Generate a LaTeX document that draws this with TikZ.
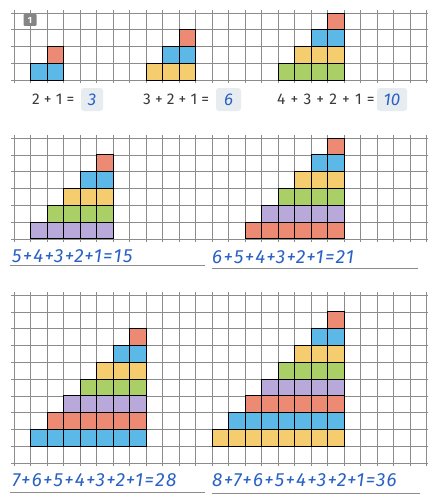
\documentclass[tikz,border=0pt]{standalone}
\usepackage{fontspec}
\setmainfont{Fira Sans}
\newfontfamily\handfont[LetterSpace=7]{Fira Sans}
\definecolor{gridc}{HTML}{8C8C8C}
\definecolor{c1}{HTML}{EC8A74}
\definecolor{c2}{HTML}{5CB8E6}
\definecolor{c3}{HTML}{F6CD6E}
\definecolor{c4}{HTML}{AACF66}
\definecolor{c5}{HTML}{B9A9DA}
\definecolor{c6}{HTML}{EC8A74}
\definecolor{c7}{HTML}{5CB8E6}
\definecolor{c8}{HTML}{F6CD6E}
\definecolor{handc}{HTML}{2A62C4}
\definecolor{printc}{HTML}{3A3A3A}
\definecolor{boxc}{HTML}{E7ECF1}
\definecolor{badgec}{HTML}{858585}
\newcommand\gridsec[3]{%
  \foreach \k in {0,...,25} {\draw[gridline] ({14+16.5*\k},{#1-3}) -- ({14+16.5*\k},{#1+#3*#2+3});}
  \foreach \j in {0,...,#3} {\draw[gridline] (11,{#1+\j*#2}) -- (428,{#1+\j*#2});}
}
\newcommand\stairs[5]{%
  \foreach \w in {1,...,#3} {%
    \pgfmathtruncatemacro\rr{#5-(#3-\w)}%
    \foreach \c in {1,...,\w} {%
      \pgfmathsetmacro\xx{14+16.5*(#4-\c+1)}%
      \pgfmathsetmacro\yy{#1+#2*\rr}%
      \draw[cellbox, fill=c\w] (\xx,\yy) rectangle ++(16.5,#2);
    }%
  }%
}
\begin{document}
\begin{tikzpicture}[x=1pt,y=-1pt,
  gridline/.style={draw=gridc, line width=0.6pt},
  cellbox/.style={draw=black, line width=0.8pt},
  printed/.style={inner sep=0pt, text=printc, font=\fontsize{15.5}{15.5}\selectfont},
  ansbox/.style={fill=boxc, rounded corners=3pt, minimum height=23pt, inner sep=0pt, text=handc, font=\fontsize{17}{17}\selectfont\itshape},
  hand/.style={inner sep=0pt, text=handc, font=\fontsize{19}{19}\handfont\itshape},
  uline/.style={draw=gridc, line width=0.7pt},
  badge/.style={fill=badgec, rounded corners=1pt, minimum width=13pt, minimum height=12pt, inner sep=0pt, text=white, font=\fontsize{9}{9}\selectfont\bfseries}]
\useasboundingbox (0,0) rectangle (428,495);
\fill[white] (0,0) rectangle (428,495);
% section 1
\gridsec{13}{16.75}{4}
\stairs{13}{16.75}{2}{2}{3}
\stairs{13}{16.75}{3}{10}{3}
\stairs{13}{16.75}{4}{19}{3}
\node[badge] (b1) at (30,20) {1};
\node[printed, anchor=base west] (e1) at (32,104) {2 + 1 =};
\node[ansbox, minimum width=22pt] (a1) at (92,99.5) {3};
\node[printed, anchor=base west] (e2) at (143,104) {3 + 2 + 1 =};
\node[ansbox, minimum width=25pt] (a2) at (228.5,99.5) {6};
\node[printed, anchor=base west] (e3) at (277,104) {4\,\,+\,\,3\,\,+\,\,2\,\,+\,\,1\,\,=};
\node[ansbox, minimum width=30pt] (a3) at (392,99.5) {10};
% section 2
\gridsec{138}{16.8}{6}
\stairs{138}{16.8}{5}{5}{5}
\stairs{138}{16.8}{6}{19}{5}
\node[hand, anchor=base west] (h1) at (12,262) {5+4+3+2+1=15};
\node[hand, anchor=base west] (h2) at (212,263) {6+5+4+3+2+1=21};
\draw[uline] (10,265.5) -- (205,265.5);
\draw[uline] (212,268) -- (418,268);
% section 3
\gridsec{295}{16.8}{10}
\stairs{295}{16.8}{7}{7}{8}
\stairs{295}{16.8}{8}{19}{8}
\node[hand, anchor=base west] (h3) at (12,486) {7+6+5+4+3+2+1=28};
\node[hand, anchor=base west] (h4) at (212,486) {8+7+6+5+4+3+2+1=36};
\draw[uline] (10,492) -- (205,492);
\draw[uline] (212,493) -- (420,493);
\end{tikzpicture}
\end{document}
